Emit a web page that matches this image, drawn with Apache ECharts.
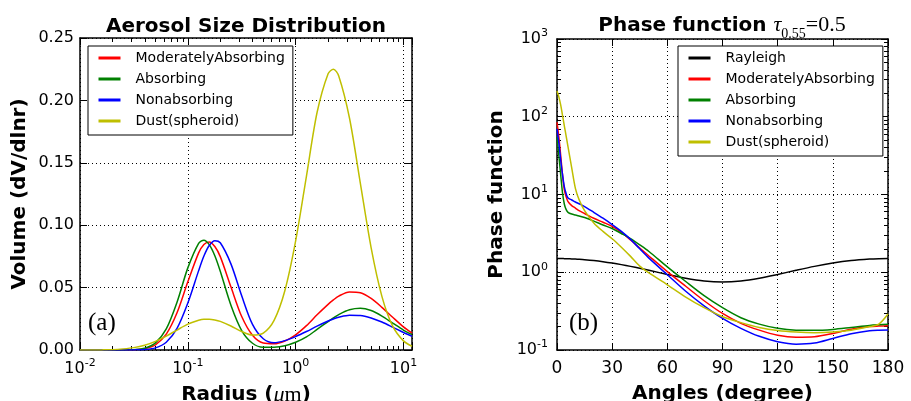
<!DOCTYPE html>
<html><head><meta charset="utf-8">
<script src="https://cdn.jsdelivr.net/npm/echarts@6/dist/echarts.min.js"></script>
<style>html,body{margin:0;padding:0;background:#fff}#c{width:911px;height:401px}</style>
</head><body><div id="c"></div>
<script>
// ---- Left panel: aerosol size distribution ----
const radius = [0.01, 0.0126, 0.0158, 0.02, 0.0251, 0.0316, 0.0398, 0.0501, 0.0631, 0.0794, 0.1, 0.126, 0.141, 0.158, 0.178, 0.2, 0.251, 0.316, 0.398, 0.501, 0.631, 0.794, 1, 1.26, 1.58, 2, 2.24, 2.51, 3.16, 3.98, 5.01, 6.31, 7.94, 10, 12];
const sizeModerate = [0,0,0,0,0,0.0002,0.0011,0.0042,0.0127,0.0298,0.0546,0.0778,0.0846,0.0866,0.0829,0.0748,0.0506,0.0268,0.0118,0.0056,0.0050,0.0072,0.0122,0.0195,0.0282,0.0366,0.0401,0.0432,0.0465,0.0458,0.0413,0.0342,0.0262,0.0185,0.0136];
const sizeAbsorbing = [0,0,0,0,0,0.0003,0.0014,0.0057,0.0169,0.0383,0.0658,0.0855,0.0880,0.0844,0.0755,0.0631,0.0359,0.0156,0.0054,0.0022,0.0023,0.0034,0.0062,0.0105,0.0165,0.0228,0.0257,0.0284,0.0322,0.0334,0.0316,0.0272,0.0216,0.0160,0.0123];
const sizeNonabsorbing = [0,0,0,0,0,0.0001,0.0004,0.0017,0.0062,0.0173,0.0376,0.0636,0.0753,0.0837,0.0876,0.0859,0.0690,0.0434,0.0205,0.0090,0.0058,0.0075,0.0108,0.0148,0.0191,0.0232,0.0249,0.0263,0.0279,0.0277,0.0257,0.0224,0.0183,0.0140,0.0110];
const sizeDust = [0,0,0.0001,0.0003,0.0009,0.0019,0.0038,0.0069,0.0111,0.0160,0.0207,0.0239,0.0247,0.0247,0.0241,0.0229,0.0192,0.0148,0.0120,0.0136,0.0238,0.0475,0.0874,0.1394,0.1903,0.2214,0.2250,0.2196,0.1857,0.1338,0.0821,0.0430,0.0191,0.0073,0.0030];

// ---- Right panel: phase function ----
const angles = [0,1,2,3,4,5,6,8,10,12,15,20,25,30,35,40,45,50,60,70,80,90,100,110,120,130,140,150,160,170,175,180];
const phaseRayleigh = [1.5,1.4998,1.4991,1.4979,1.4963,1.4943,1.4918,1.4855,1.4774,1.4676,1.4498,1.4123,1.366,1.3125,1.2533,1.1901,1.125,1.0599,0.9375,0.8377,0.7726,0.75,0.7726,0.8377,0.9375,1.0599,1.1901,1.3125,1.4123,1.4774,1.4943,1.5];
const phaseModerate = [85,55,32,18,11.5,9.3,8.1,7.2,6.7,6.2,5.7,4.95,4.4,3.9,3.25,2.6,2.05,1.62,1.02,0.66,0.43,0.295,0.22,0.18,0.155,0.146,0.148,0.163,0.185,0.2,0.203,0.205];
const phaseAbsorbing = [55,32,18,10.5,7.5,6.4,5.9,5.6,5.45,5.3,5.05,4.55,4.05,3.65,3.15,2.7,2.25,1.85,1.17,0.76,0.5,0.35,0.26,0.215,0.19,0.18,0.179,0.184,0.195,0.207,0.211,0.214];
const phaseNonabsorbing = [70,46,28,18,12.5,10.2,9.0,8.5,8.0,7.6,7.0,5.9,4.95,4.1,3.35,2.65,2.0,1.52,0.93,0.57,0.37,0.255,0.19,0.15,0.128,0.119,0.123,0.141,0.162,0.177,0.18,0.181];
const phaseDust = [215,180,142,104,76,56,41,22,12,8.6,6.2,4.3,3.35,2.7,2.1,1.6,1.2,0.98,0.69,0.48,0.35,0.268,0.225,0.195,0.178,0.17,0.167,0.17,0.18,0.2,0.215,0.29];

const sizeNames = ['ModeratelyAbsorbing','Absorbing','Nonabsorbing','Dust(spheroid)'];
const phaseNames = ['Rayleigh','ModeratelyAbsorbing','Absorbing','Nonabsorbing','Dust(spheroid)'];
const angleTicks = [0,30,60,90,120,150,180];

const COLORS = {'Rayleigh':'#000000','ModeratelyAbsorbing':'#ff0000','Absorbing':'#008000','Nonabsorbing':'#0000ff','Dust(spheroid)':'#bfbf00'};
const SANS = 'DejaVu Sans';
const SERIF = 'Liberation Serif';

function minorLog(lo, hi) {
  const out = [];
  for (let d = lo; d <= hi; d++) for (let k = 2; k <= 9; k++) out.push(+(k * Math.pow(10, d)).toPrecision(3));
  return out;
}
const minorR = minorLog(-2, 0);
const minorP = minorLog(-1, 2);

function fmtPow(v) {
  const l = Math.log10(v); const e = Math.round(l);
  if (Math.abs(l - e) > 1e-6) return '';
  return '{b|10}{s|' + e + '}';
}
const powRich = {
  b: {fontFamily: SANS, fontSize: 16, color: '#000', lineHeight: 16, verticalAlign: 'bottom'},
  s: {fontFamily: SANS, fontSize: 11, color: '#000', lineHeight: 11, verticalAlign: 'bottom', padding: [0, 0, 8, 0]}
};
const spine = {show: true, lineStyle: {color: '#000', width: 1.5}};
const dotted = {show: true, lineStyle: {color: '#000', width: 1, type: [1, 3]}};
const noLabel = {show: false};
const noSplit = {show: false};
const nameStyle = {fontFamily: SANS, fontSize: 20, fontWeight: 'bold', color: '#000'};
const tick = (len, extra) => Object.assign({inside: true, length: len, lineStyle: {color: '#000'}}, extra || {});

const chart = echarts.init(document.getElementById('c'), null, {renderer: 'canvas'});

const logR = {type: 'log', logBase: 10, gridIndex: 0, min: 0.01, max: 12};
const logP = {type: 'log', logBase: 10, gridIndex: 1, min: 0.1, max: 1000};
const xAxes = [
  // left panel
  Object.assign({}, logR, {position: 'bottom', axisLine: spine, axisTick: tick(7),
   axisLabel: {margin: 11, formatter: fmtPow, rich: powRich}, splitLine: dotted,
   name: '{b|Radius (}{i|μ}{m|m}{b|)}', nameLocation: 'middle', nameGap: 34,
   nameTextStyle: {rich: {b: Object.assign({}, nameStyle), i: {fontFamily: SERIF, fontStyle: 'italic', fontSize: 22, color: '#000'}, m: {fontFamily: SERIF, fontSize: 22, color: '#000'}}}}),
  Object.assign({}, logR, {position: 'bottom', axisLine: {show: false}, axisTick: tick(4, {customValues: minorR}), axisLabel: noLabel, splitLine: noSplit}),
  Object.assign({}, logR, {position: 'top', axisLine: spine, axisTick: tick(7), axisLabel: noLabel, splitLine: noSplit}),
  Object.assign({}, logR, {position: 'top', axisLine: {show: false}, axisTick: tick(4, {customValues: minorR}), axisLabel: noLabel, splitLine: noSplit}),
  // right panel
  {type: 'value', gridIndex: 1, position: 'bottom', min: 0, max: 180, interval: 30,
   axisLine: spine, axisTick: tick(7),
   axisLabel: {margin: 10, fontFamily: SANS, fontSize: 17, color: '#000', customValues: angleTicks}, splitLine: dotted,
   name: 'Angles (degree)', nameLocation: 'middle', nameGap: 34, nameTextStyle: nameStyle},
  {type: 'value', gridIndex: 1, position: 'top', min: 0, max: 180, interval: 30,
   axisLine: spine, axisTick: tick(7), axisLabel: noLabel, splitLine: noSplit}
];
const yAxes = [
  {type: 'value', gridIndex: 0, position: 'left', min: 0, max: 0.25, interval: 0.05,
   axisLine: spine, axisTick: tick(7),
   axisLabel: {margin: 6, fontFamily: SANS, fontSize: 16, color: '#000', formatter: v => v.toFixed(2)}, splitLine: dotted,
   name: 'Volume (dV/dlnr)', nameLocation: 'middle', nameGap: 50, nameTextStyle: nameStyle},
  {type: 'value', gridIndex: 0, position: 'right', min: 0, max: 0.25, interval: 0.05,
   axisLine: spine, axisTick: tick(7), axisLabel: noLabel, splitLine: noSplit},
  Object.assign({}, logP, {position: 'left', axisLine: spine, axisTick: tick(7),
   axisLabel: {margin: 9, formatter: fmtPow, rich: powRich}, splitLine: dotted,
   name: 'Phase function', nameLocation: 'middle', nameGap: 50, nameTextStyle: nameStyle}),
  Object.assign({}, logP, {position: 'left', axisLine: {show: false}, axisTick: tick(4, {customValues: minorP}), axisLabel: noLabel, splitLine: noSplit}),
  Object.assign({}, logP, {position: 'right', axisLine: spine, axisTick: tick(7), axisLabel: noLabel, splitLine: noSplit}),
  Object.assign({}, logP, {position: 'right', axisLine: {show: false}, axisTick: tick(4, {customValues: minorP}), axisLabel: noLabel, splitLine: noSplit})
];

function line(name, xs, ys, xi, yi) {
  return {name: name, type: 'line', xAxisIndex: xi, yAxisIndex: yi, data: xs.map((x, i) => [x, ys[i]]),
    symbol: 'none', showSymbol: false, smooth: 0.3, lineStyle: {width: 1.5, color: COLORS[name]}, itemStyle: {color: COLORS[name]}};
}
const sizeSeries = [sizeModerate, sizeAbsorbing, sizeNonabsorbing, sizeDust];
const phaseSeries = [phaseRayleigh, phaseModerate, phaseAbsorbing, phaseNonabsorbing, phaseDust];
const series = [];
sizeNames.forEach((n, i) => series.push(line(n, radius, sizeSeries[i], 0, 0)));
phaseNames.forEach((n, i) => series.push(line(n, angles, phaseSeries[i], 4, 2)));

const legendBase = {orient: 'vertical', itemWidth: 22, itemHeight: 14, itemGap: 7, padding: [5, 8, 7, 9],
  borderColor: '#000', borderWidth: 1, borderRadius: 0, backgroundColor: '#fff', selectedMode: false,
  itemStyle: {color: 'rgba(0,0,0,0)', borderColor: 'rgba(0,0,0,0)', borderWidth: 0},
  lineStyle: {width: 3}, textStyle: {fontFamily: SANS, fontSize: 14, color: '#000', padding: [0, 0, 0, 10]}};

const mathTok = {fontFamily: SERIF, fontWeight: 'normal', color: '#000', verticalAlign: 'bottom'};
chart.setOption({
  animation: false,
  backgroundColor: '#fff',
  title: [
    {text: 'Aerosol Size Distribution', left: 246, top: 17, textAlign: 'center', padding: 0,
     textStyle: {fontFamily: SANS, fontSize: 20, fontWeight: 'bold', color: '#000'}},
    {text: '{b|Phase function }{t|τ}{s|0.55}{n|=0.5}', left: 722, top: 19, textAlign: 'center', padding: 0,
     textStyle: {fontWeight: 'normal', rich: {
       b: {fontFamily: SANS, fontSize: 20, fontWeight: 'bold', color: '#000', lineHeight: 20, verticalAlign: 'bottom', padding: [0, 0, 5, 0]},
       t: Object.assign({}, mathTok, {fontStyle: 'italic', fontSize: 22, lineHeight: 22, padding: [0, 0, 5, 0]}),
       s: Object.assign({}, mathTok, {fontSize: 14, lineHeight: 14}),
       n: Object.assign({}, mathTok, {fontSize: 22, lineHeight: 22, padding: [0, 0, 5, 0]})
     }}}
  ],
  grid: [
    {left: 80, right: 499, top: 38, bottom: 51, outerBoundsMode: 'none', containLabel: false},
    {left: 557, right: 23, top: 39, bottom: 51, outerBoundsMode: 'none', containLabel: false}
  ],
  legend: [
    Object.assign({}, legendBase, {data: sizeNames, left: 88, top: 46}),
    Object.assign({}, legendBase, {data: phaseNames, left: 678, top: 46})
  ],
  xAxis: xAxes,
  yAxis: yAxes,
  graphic: [
    {type: 'text', left: 88, top: 311, style: {text: '(a)', font: '25px "Liberation Serif"', fill: '#000'}},
    {type: 'text', left: 569, top: 311, style: {text: '(b)', font: '25px "Liberation Serif"', fill: '#000'}}
  ],
  series: series
});
</script></body></html>
